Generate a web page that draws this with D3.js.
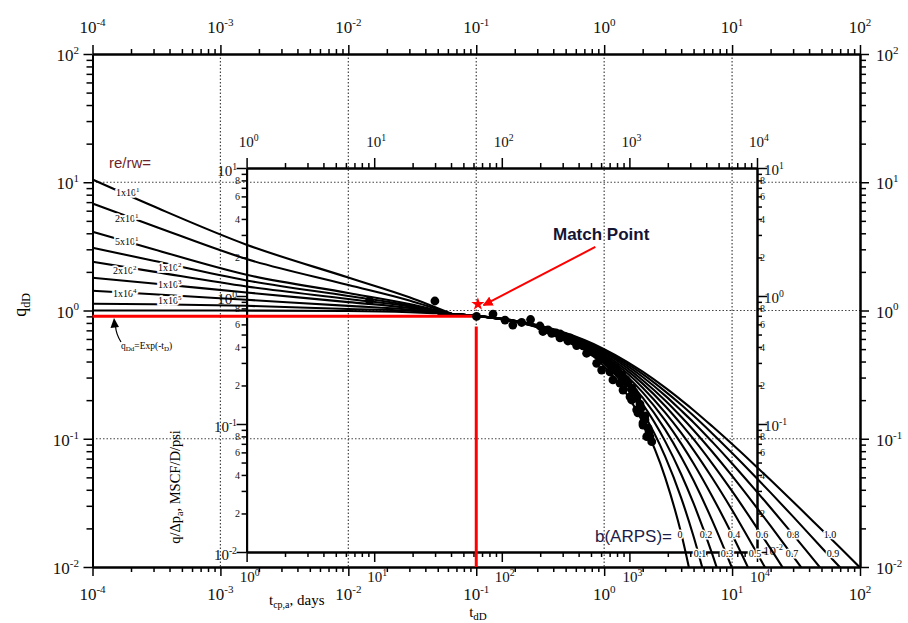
<!DOCTYPE html>
<html><head><meta charset="utf-8">
<script src="https://cdn.jsdelivr.net/npm/d3@7"></script>
<style>body{margin:0;background:#fff}svg{display:block}</style>
</head><body>
<svg id="c" width="908" height="623"></svg>
<script>
// ---------- DATA ----------
// transient stems (outer axes: tdD, qdD)
const tTransient = [1e-4, 3e-4, 1.6e-3, 0.01, 0.03, 0.065];
const qRe1e1 = [10.5, 6.49, 3.26, 1.807, 1.268, 0.937];
const qRe2e1 = [6.82, 4.56, 2.52, 1.582, 1.197, 0.937];
const qRe5e1 = [4.12, 3.00, 1.90, 1.370, 1.124, 0.937];
const qRe1e2 = [3.09, 2.44, 1.716, 1.298, 1.098, 0.937];
const qRe2e2 = [2.40, 2.01, 1.540, 1.230, 1.075, 0.937];
const qRe1e3 = [1.80, 1.623, 1.382, 1.163, 1.048, 0.937];
const qRe1e4 = [1.425, 1.339, 1.212, 1.086, 1.018, 0.937];
const qRe1e5 = [1.128, 1.118, 1.088, 1.027, 0.995, 0.937];
const reMantissa = ["1","2","5","1","2","1","1","1"];
const reExponent = ["1","1","1","2","2","3","4","5"];

// exponential stem qDd = exp(-tD)
const tStem = [1e-4, 1e-3, 0.01, 0.03, 0.05];
const qStem = [1.0, 0.999, 0.99, 0.970, 0.951];

// Arps depletion stems
const tArps = [0.05, 0.1, 0.2, 0.3, 0.5, 0.7, 1, 1.5, 2, 3, 4, 5, 7, 10, 15, 20, 30, 50, 70, 100];
const qB00 = [0.951,0.905,0.819,0.741,0.607,0.497,0.368,0.223,0.135,0.0498,0.0183,0.0067];
const qB01 = [0.951,0.905,0.820,0.744,0.614,0.508,0.386,0.247,0.1615,0.0725,0.0346,0.0173,0.0050];
const qB02 = [0.951,0.906,0.822,0.747,0.621,0.519,0.402,0.269,0.186,0.0954,0.0529,0.0313,0.0126,0.0041];
const qB03 = [0.951,0.906,0.823,0.750,0.628,0.530,0.417,0.290,0.209,0.1177,0.0722,0.0472,0.0230,0.0098,0.0034];
const qB04 = [0.951,0.907,0.825,0.753,0.634,0.539,0.431,0.309,0.230,0.1393,0.0917,0.0642,0.0355,0.0179,0.0077,0.0041];
const qB05 = [0.951,0.907,0.826,0.756,0.640,0.549,0.444,0.327,0.250,0.160,0.111,0.0816,0.0494,0.0278,0.0138,0.0083,0.0039];
const qB06 = [0.951,0.907,0.828,0.759,0.646,0.557,0.457,0.343,0.269,0.180,0.130,0.0992,0.0640,0.0390,0.0215,0.0139,0.0074,0.0033];
const qB07 = [0.951,0.908,0.829,0.762,0.651,0.566,0.469,0.359,0.286,0.199,0.1485,0.1166,0.0792,0.0513,0.0305,0.0209,0.0121,0.0060,0.0037];
const qB08 = [0.952,0.908,0.831,0.764,0.657,0.574,0.480,0.373,0.303,0.217,0.166,0.134,0.0945,0.0642,0.0405,0.0290,0.0179,0.0096,0.0064,0.0041];
const qB09 = [0.952,0.909,0.832,0.767,0.662,0.581,0.490,0.387,0.319,0.234,0.184,0.151,0.110,0.0774,0.0513,0.0380,0.0247,0.0142,0.0099,0.0067];
const qB10 = [0.952,0.909,0.833,0.769,0.667,0.588,0.500,0.400,0.333,0.250,0.200,0.167,0.125,0.0909,0.0625,0.0476,0.0323,0.0196,0.0141,0.0099];
const bUpper = ["0","0.2","0.4","0.6","0.8","1.0"];
const bLower = ["0.1","0.3","0.5","0.7","0.9"];

// field data (inner axes: t_cp,a days, q/Δp_a)
const tcData = [9.19,29.9,63.4,85.3,106,122,143,168,199,210,246,286,286,330,343,386,410,462,491,554,589,606,680,704,743,771,843,875,891,975,1011,1042,1086,1140,1167,1211,1278,1278,1324,1367,1400,1449,1496,
  230,266,313,361,433,519,621,731,815,940,1047,1148,1233,1325,1425];
const qData  = [0.922,0.914,0.692,0.723,0.649,0.593,0.621,0.655,0.583,0.528,0.511,0.470,0.505,0.445,0.470,0.410,0.430,0.357,0.385,0.298,0.340,0.264,0.305,0.255,0.221,0.274,0.209,0.241,0.184,0.209,0.163,0.154,0.178,0.129,0.122,0.143,0.102,0.098,0.1155,0.0796,0.093,0.0796,0.0727,
  0.543,0.514,0.478,0.445,0.407,0.365,0.322,0.284,0.255,0.221,0.191,0.160,0.133,0.1075,0.0866];

// match point
const matchT = 0.1, matchQ = 0.9;
const arrowFrom = [0.853, 3.13], arrowTo = [0.114, 1.10];

// ---------- CHART ----------
const svg = d3.select("#c");
const serif = "'Liberation Serif','Times New Roman',serif";
const sans = "'Liberation Sans',Arial,sans-serif";

const xO = d3.scaleLog().domain([1e-4, 1e2]).range([92.5, 860]);
const yO = d3.scaleLog().domain([1e-2, 1e2]).range([567, 54]);
const xI = d3.scaleLog().domain([1, 1e4]).range([246.6, 757]);
const yI = d3.scaleLog().domain([1e-2, 1e1]).range([552, 168]);

const isMajor = v => Math.abs(Math.log10(v) - Math.round(Math.log10(v))) < 1e-9;

// grid
const grid = svg.append("g").attr("stroke", "#444").attr("stroke-width", 1.2).attr("stroke-dasharray", "1.5,2");
xO.ticks().filter(isMajor).filter(v => v > 1e-4 && v < 1e2).forEach(v =>
  grid.append("line").attr("x1", xO(v)).attr("x2", xO(v)).attr("y1", yO(1e2)).attr("y2", yO(1e-2)));
yO.ticks().filter(isMajor).filter(v => v > 1e-2 && v < 1e2).forEach(v =>
  grid.append("line").attr("x1", xO(1e-4)).attr("x2", xO(1e2)).attr("y1", yO(v)).attr("y2", yO(v)));

function drawAxis(orient, scale, pos, majorLen, minorLen) {
  const ticks = scale.ticks();
  const maj = ticks.filter(isMajor), mn = ticks.filter(v => !isMajor(v));
  const mk = {top: d3.axisTop, bottom: d3.axisBottom, left: d3.axisLeft, right: d3.axisRight}[orient];
  const tr = (orient === "top" || orient === "bottom") ? `translate(0,${pos})` : `translate(${pos},0)`;
  [[mn, minorLen], [maj, majorLen]].forEach(([vals, len]) => {
    const g = svg.append("g").attr("transform", tr)
      .call(mk(scale).tickValues(vals).tickSize(len).tickSizeOuter(0).tickFormat(""));
    g.select(".domain").attr("stroke", "#000").attr("stroke-width", 2);
    g.selectAll(".tick line").attr("stroke", "#000").attr("stroke-width", 1.5);
  });
}
// inner axes
drawAxis("top", xI, 168, 10, 5);
drawAxis("bottom", xI, 552, 10, 5);
drawAxis("left", yI, 246.6, 10, 5);
drawAxis("right", yI, 757, 10, 5);
// outer axes
drawAxis("top", xO, 54, 9, 5);
drawAxis("bottom", xO, 567, 9, 5);
drawAxis("left", yO, 92.5, 9, 6);
drawAxis("right", yO, 860, 9, 6);

function pow10(x, y, exp, size, anchor) {
  const t = svg.append("text").attr("x", x).attr("y", y).attr("text-anchor", anchor)
    .attr("font-family", serif).attr("font-size", size).attr("fill", "#111");
  t.append("tspan").text("10");
  t.append("tspan").attr("dy", -size * 0.42).attr("font-size", size * 0.65).text(exp);
  return t;
}
const expOf = v => String(Math.round(Math.log10(v)));
// outer labels
xO.ticks().filter(isMajor).forEach(v => {
  pow10(xO(v), 33, expOf(v), 17, "middle");
  pow10(xO(v), 600, expOf(v), 17, "middle");
});
yO.ticks().filter(isMajor).forEach(v => {
  pow10(79, yO(v) + 7, expOf(v), 17, "end");
  pow10(876, yO(v) + 7, expOf(v), 17, "start");
});
// inner labels
xI.ticks().filter(isMajor).forEach(v => {
  pow10(xI(v) + 2, 147, expOf(v), 15, "middle");
  pow10(xI(v) + 3, 582, expOf(v), 15, "middle");
});
yI.ticks().forEach(v => {
  if (isMajor(v)) {
    pow10(237, yI(v) + 8, expOf(v), 15, "end");
    if (v > 0.011) pow10(764, yI(v) + 7, expOf(v), 15, "start");
    else pow10(763, yI(v) + 3, expOf(v), 13, "start");
  } else {
    const m = Math.round(v / Math.pow(10, Math.floor(Math.log10(v) + 1e-9)));
    if (m % 2 === 0) {
      [[240, "end"], [760, "start"]].forEach(([x, a]) =>
        svg.append("text").attr("x", x).attr("y", yI(v) + 4).attr("text-anchor", a)
          .attr("font-family", serif).attr("font-size", 10).attr("fill", "#111").text(m));
    }
  }
});

// curves
svg.append("clipPath").attr("id", "clip").append("rect")
  .attr("x", xO(1e-4)).attr("y", yO(1e2)).attr("width", xO(1e2) - xO(1e-4)).attr("height", yO(1e-2) - yO(1e2));
const cg = svg.append("g").attr("clip-path", "url(#clip)").attr("fill", "none").attr("stroke", "#000").attr("stroke-width", 2.1);
const line = d3.line().x(d => xO(d[0])).y(d => yO(d[1])).curve(d3.curveMonotoneX);
const zip = (ts, qs) => qs.map((q, i) => [ts[i], q]);
[qRe1e1, qRe2e1, qRe5e1, qRe1e2, qRe2e2, qRe1e3, qRe1e4, qRe1e5].forEach(qs =>
  cg.append("path").attr("d", line(zip(tTransient, qs))));
cg.append("path").attr("d", line(zip(tStem, qStem)));
[qB00, qB01, qB02, qB03, qB04, qB05, qB06, qB07, qB08, qB09, qB10].forEach(qs =>
  cg.append("path").attr("d", line(zip(tArps, qs))));

// red match lines
svg.append("line").attr("x1", xO(1e-4)).attr("x2", xO(matchT)).attr("y1", yO(matchQ)).attr("y2", yO(matchQ))
  .attr("stroke", "#ff0000").attr("stroke-width", 3);
svg.append("line").attr("x1", xO(matchT)).attr("x2", xO(matchT)).attr("y1", yO(0.75)).attr("y2", yO(1e-2))
  .attr("stroke", "#ff0000").attr("stroke-width", 3);

// data points
svg.append("g").selectAll("circle").data(tcData.map((t, i) => [t, qData[i]])).join("circle")
  .attr("cx", d => xI(d[0])).attr("cy", d => yI(d[1])).attr("r", 4.4).attr("fill", "#000");

// match point marker + arrow
svg.append("defs").append("marker").attr("id", "ah").attr("viewBox", "0 0 10 10").attr("refX", 9).attr("refY", 5)
  .attr("markerWidth", 5).attr("markerHeight", 5).attr("orient", "auto")
  .append("path").attr("d", "M0,0L10,5L0,10z").attr("fill", "#ff0000");
svg.append("line").attr("x1", xO(arrowFrom[0])).attr("y1", yO(arrowFrom[1])).attr("x2", xO(arrowTo[0])).attr("y2", yO(arrowTo[1]))
  .attr("stroke", "#ff0000").attr("stroke-width", 2).attr("marker-end", "url(#ah)");
svg.append("path").attr("d", d3.symbol(d3.symbolStar).size(55)())
  .attr("transform", `translate(${xO(0.103)},${yO(1.12)})`).attr("fill", "#ff0000");
svg.append("text").attr("x", 553).attr("y", 240).attr("font-family", sans).attr("font-weight", "bold")
  .attr("font-size", 17).attr("fill", "#141433").text("Match Point");

// re/rw labels
svg.append("text").attr("x", 109).attr("y", 168).attr("font-family", sans).attr("font-size", 15)
  .attr("fill", "#6e1f2a").text("re/rw=");
const reLabelPos = [[116, 196], [115, 222], [115, 245], [158, 271], [113, 274], [158, 288], [113, 297], [158, 304]];
reMantissa.forEach((m, i) => {
  const t = svg.append("text").attr("x", reLabelPos[i][0]).attr("y", reLabelPos[i][1])
    .attr("font-family", serif).attr("font-size", 10).attr("fill", "#000")
    .attr("stroke", "#fff").attr("stroke-width", 3.5).attr("paint-order", "stroke");
  t.append("tspan").text(m + "x10");
  t.append("tspan").attr("dy", -4).attr("font-size", 7).text(reExponent[i]);
});

// exp annotation
svg.append("path").attr("d", "M121,342 Q116,334 115.5,326").attr("fill", "none").attr("stroke", "#000").attr("stroke-width", 1.2);
svg.append("path").attr("d", "M114,318 L110.5,328 L119,327 Z").attr("fill", "#000");
(() => {
  const t = svg.append("text").attr("x", 121).attr("y", 349).attr("font-family", serif).attr("font-size", 9.5).attr("fill", "#000");
  t.append("tspan").text("q");
  t.append("tspan").attr("dy", 2).attr("font-size", 7).text("Dd");
  t.append("tspan").attr("dy", -2).text("=Exp(-t");
  t.append("tspan").attr("dy", 2).attr("font-size", 7).text("D");
  t.append("tspan").attr("dy", -2).text(")");
})();

// b labels
svg.append("text").attr("x", 595).attr("y", 542).attr("font-family", sans).attr("font-size", 17)
  .attr("fill", "#1c1c48").text("b(ARPS)=");
const bUpperX = [680, 706, 734, 762, 793, 830];
const bLowerX = [700, 727, 755, 792, 833];
bUpper.forEach((s, i) => svg.append("text").attr("x", bUpperX[i]).attr("y", 538).attr("text-anchor", "middle")
  .attr("font-family", serif).attr("font-size", 10).attr("stroke", "#fff").attr("stroke-width", 3)
  .attr("paint-order", "stroke").text(s));
bLower.forEach((s, i) => svg.append("text").attr("x", bLowerX[i]).attr("y", 557).attr("text-anchor", "middle")
  .attr("font-family", serif).attr("font-size", 10).attr("stroke", "#fff").attr("stroke-width", 3)
  .attr("paint-order", "stroke").text(s));

// axis titles
(() => {
  const g = svg.append("g").attr("transform", "translate(26,305) rotate(-90)");
  const t = g.append("text").attr("text-anchor", "middle").attr("font-family", serif).attr("font-size", 18);
  t.append("tspan").text("q");
  t.append("tspan").attr("dy", 4).attr("font-size", 12).text("dD");
  const t2 = svg.append("text").attr("x", 478).attr("y", 617).attr("text-anchor", "middle").attr("font-family", serif).attr("font-size", 15);
  t2.append("tspan").text("t");
  t2.append("tspan").attr("dy", 3).attr("font-size", 11).text("dD");
  const t3 = svg.append("text").attr("x", 269).attr("y", 605).attr("font-family", serif).attr("font-size", 15);
  t3.append("tspan").text("t");
  t3.append("tspan").attr("dy", 3).attr("font-size", 10).text("cp,a");
  t3.append("tspan").attr("dy", -3).text(", days");
  const g4 = svg.append("g").attr("transform", "translate(180,487) rotate(-90)");
  const t4 = g4.append("text").attr("text-anchor", "middle").attr("font-family", serif).attr("font-size", 14.5);
  t4.append("tspan").text("q/Δp");
  t4.append("tspan").attr("dy", 3).attr("font-size", 10).text("a");
  t4.append("tspan").attr("dy", -3).text(", MSCF/D/psi");
})();
</script>
</body></html>
